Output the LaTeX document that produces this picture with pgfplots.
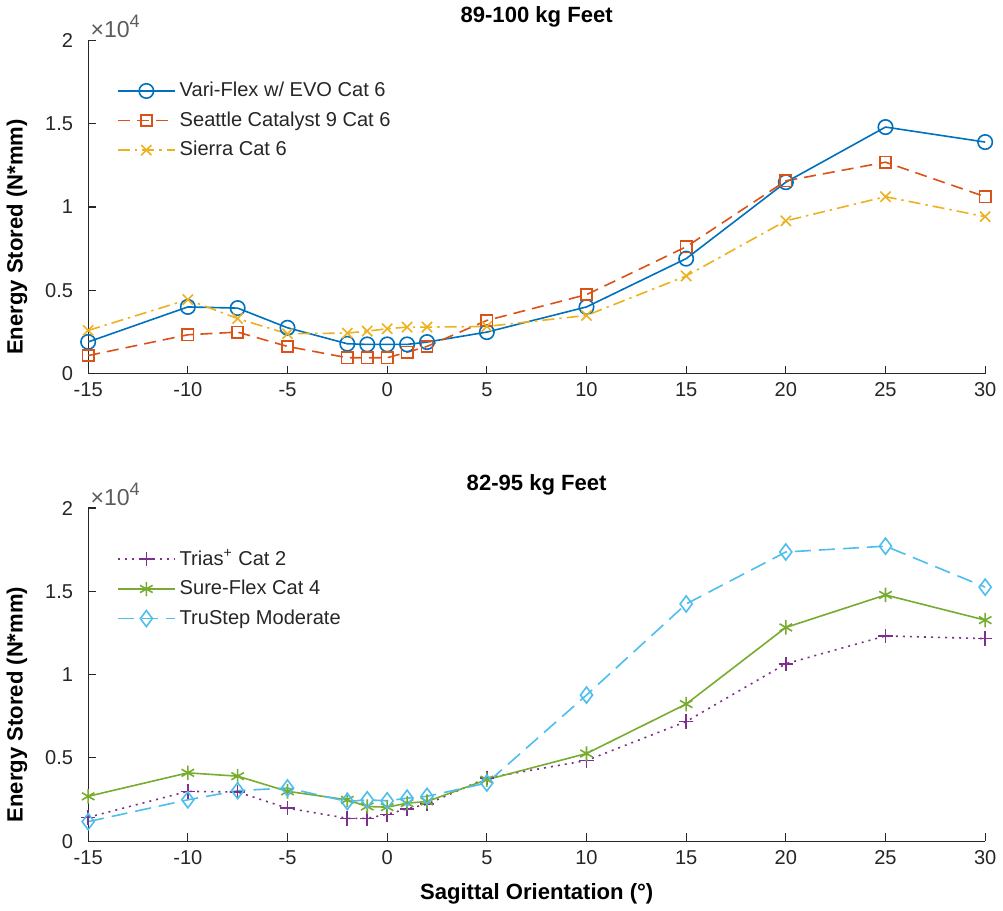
\documentclass[border=0pt]{standalone}
\usepackage{pgfplots}
\pgfplotsset{compat=1.18}
\usepackage{fontspec}
\setmainfont{Liberation Sans}

\definecolor{mblue}{rgb}{0,0.447,0.741}
\definecolor{mred}{rgb}{0.85,0.325,0.098}
\definecolor{myel}{rgb}{0.929,0.694,0.125}
\definecolor{mpur}{rgb}{0.494,0.184,0.556}
\definecolor{mgrn}{rgb}{0.466,0.674,0.188}
\definecolor{mcyan}{rgb}{0.301,0.745,0.933}
\definecolor{axgray}{rgb}{0.15,0.15,0.15}

\pgfplotsset{
  mstyle/.style={
    scale only axis, width=447pt, height=166pt,
    xmin=-15, xmax=30, ymin=0, ymax=20000,
    xtick={-15,-10,...,30},
    ytick={0,5000,10000,15000,20000},
    yticklabels={0,0.5,1,1.5,2},
    scaled y ticks=false,
    axis x line*=bottom, axis y line*=left,
    axis line style={axgray, line width=0.6pt},
    tick style={axgray, line width=0.6pt},
    tick align=inside, major tick length=4pt,
    ticklabel style={font=\fontsize{10}{12}\selectfont, text=axgray},
    yticklabel style={xshift=-4pt},
    xticklabel style={yshift=-1pt},
    /pgf/number format/assume math mode=true,
    title style={font=\bfseries\fontsize{11}{13}\selectfont, yshift=-3pt},
    ylabel style={font=\bfseries\fontsize{11}{13}\selectfont, at={(ticklabel cs:0.41)}, yshift=2pt},
    ylabel={Energy Stored (N*mm)},
    legend style={draw=none, fill=none, at={(0.025,0.9)}, anchor=north west,
      font=\fontsize{10}{12}\selectfont, text=axgray, row sep=2pt},
    legend cell align=left,
    legend image code/.code={
      \draw[mark repeat=2, mark phase=2] plot coordinates {(0cm,0cm)(0.5cm,0cm)(1.0cm,0cm)};
    },
    every axis plot/.append style={line width=0.8pt},
    after end axis/.code={
      \node[anchor=south west, font=\fontsize{11.5}{13}\selectfont, text=axgray!75, inner sep=1pt]
        at (rel axis cs:0,1) {×10\raisebox{0.45em}{\fontsize{9}{10}\selectfont 4}};
    },
  }
}

\begin{document}
\begin{tikzpicture}
\begin{axis}[mstyle, name=top, title={89-100 kg Feet}]
  \addplot[mblue, mark=o, mark size=3.6pt, mark options={solid}]
    coordinates {(-15,1900)(-10,4000)(-7.5,3930)(-5,2750)(-2,1790)(-1,1750)(0,1750)(1,1750)(2,1890)(5,2490)(10,4000)(15,6900)(20,11490)(25,14800)(30,13900)};
  \addplot[mred, mark=square, mark size=2.8pt, mark options={solid}, dash pattern=on 6pt off 3.5pt]
    coordinates {(-15,1080)(-10,2330)(-7.5,2490)(-5,1630)(-2,950)(-1,950)(0,950)(1,1280)(2,1630)(5,3190)(10,4740)(15,7610)(20,11570)(25,12690)(30,10620)};
  \addplot[myel, mark=x, mark size=3.6pt, mark options={solid}, dash pattern=on 6pt off 2.5pt on 1.2pt off 2.5pt]
    coordinates {(-15,2590)(-10,4440)(-7.5,3300)(-5,2390)(-2,2430)(-1,2550)(0,2690)(1,2790)(2,2790)(5,2830)(10,3490)(15,5860)(20,9170)(25,10620)(30,9420)};
  \legend{Vari-Flex w/ EVO Cat 6, Seattle Catalyst 9 Cat 6, Sierra Cat 6}
\end{axis}
\begin{axis}[mstyle, at={(top.north west)}, anchor=north west, yshift=-233pt,
  title={82-95 kg Feet}, xlabel={Sagittal Orientation (°)},
  xlabel style={font=\bfseries\fontsize{11}{13}\selectfont, yshift=-2.5pt}]
  \addplot[mpur, mark=+, mark size=3.6pt, mark options={solid}, dash pattern=on 1pt off 2.5pt]
    coordinates {(-15,1430)(-10,2990)(-7.5,2950)(-5,1980)(-2,1370)(-1,1370)(0,1610)(1,1940)(2,2220)(5,3790)(10,4840)(15,7180)(20,10650)(25,12320)(30,12160)};
  \addplot[mgrn, mark=asterisk, mark size=3.6pt, mark options={solid}]
    coordinates {(-15,2690)(-10,4100)(-7.5,3900)(-5,2990)(-2,2480)(-1,2080)(0,2040)(1,2280)(2,2380)(5,3690)(10,5260)(15,8230)(20,12830)(25,14780)(30,13270)};
  \addplot[mcyan, mark=diamond, mark size=4pt, mark options={solid}, dash pattern=on 8pt off 4pt]
    coordinates {(-15,1170)(-10,2480)(-7.5,3030)(-5,3190)(-2,2380)(-1,2480)(0,2420)(1,2580)(2,2690)(5,3490)(10,8770)(15,14240)(20,17360)(25,17710)(30,15250)};
  \legend{Trias\textsuperscript{+} Cat 2, Sure-Flex Cat 4, TruStep Moderate}
\end{axis}
\end{tikzpicture}
\end{document}
